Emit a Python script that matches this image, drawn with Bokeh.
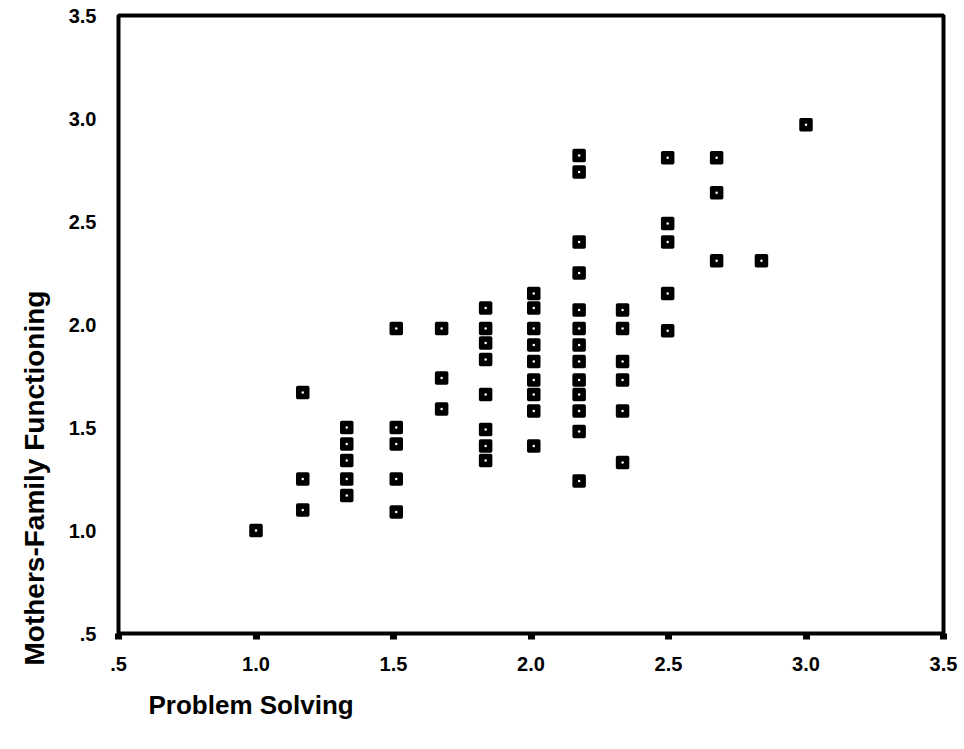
from bokeh.plotting import figure
from bokeh.models import Range1d, Title, FixedTicker
from bokeh.embed import file_html
from bokeh.resources import INLINE

# Problem Solving (x) and Mothers-Family Functioning (y)
problem_solving = (
    [1.00]
    + [1.17] * 3
    + [1.33] * 5
    + [1.51] * 5
    + [1.675] * 3
    + [1.835] * 8
    + [2.01] * 9
    + [2.175] * 13
    + [2.333] * 6
    + [2.497] * 5
    + [2.675] * 3
    + [2.838]
    + [3.00]
)
family_functioning = (
    [1.00]
    + [1.67, 1.25, 1.10]
    + [1.50, 1.42, 1.34, 1.25, 1.17]
    + [1.98, 1.50, 1.42, 1.25, 1.09]
    + [1.98, 1.74, 1.59]
    + [2.08, 1.98, 1.91, 1.83, 1.66, 1.49, 1.41, 1.34]
    + [2.15, 2.08, 1.98, 1.90, 1.82, 1.73, 1.66, 1.58, 1.41]
    + [2.82, 2.74, 2.40, 2.25, 2.07, 1.98, 1.90, 1.82, 1.73, 1.66, 1.58, 1.48, 1.24]
    + [2.07, 1.98, 1.82, 1.73, 1.58, 1.33]
    + [2.81, 2.49, 2.40, 2.15, 1.97]
    + [2.81, 2.64, 2.31]
    + [2.31]
    + [2.97]
)

tick_values = [0.5, 1.0, 1.5, 2.0, 2.5, 3.0, 3.5]
tick_labels = [".5", "1.0", "1.5", "2.0", "2.5", "3.0", "3.5"]

FONT = "Liberation Sans"

p = figure(
    width=960, height=745,
    output_backend="svg", toolbar_location=None,
    x_range=Range1d(0.5, 3.5), y_range=Range1d(0.5, 3.5),
    min_border_left=118, min_border_right=17,
    min_border_top=15, min_border_bottom=112,
)
p.grid.visible = False
p.outline_line_color = "black"
p.outline_line_width = 4
p.background_fill_color = "white"
p.border_fill_color = "white"

label_overrides = {v: t for v, t in zip(tick_values, tick_labels)}

for ax in (p.xaxis[0], p.yaxis[0]):
    ax.ticker = FixedTicker(ticks=tick_values)
    ax.major_label_overrides = label_overrides
    ax.minor_tick_line_color = None
    ax.axis_line_color = None
    ax.major_label_text_font = FONT
    ax.major_label_text_font_style = "bold"
    ax.major_label_text_font_size = "20px"
    ax.major_label_text_color = "black"

p.xaxis.major_tick_in = 0
p.xaxis.major_tick_out = 6
p.xaxis.major_tick_line_width = 7
p.xaxis.major_tick_line_color = "black"
p.xaxis.major_label_standoff = 17

p.yaxis.major_tick_line_color = None
p.yaxis.major_tick_in = 0
p.yaxis.major_tick_out = 0
p.yaxis.major_label_standoff = 22

xt = Title(text="Problem Solving", align="left", offset=30,
           text_font=FONT, text_font_size="26px", text_font_style="bold",
           text_color="black", standoff=28)
p.add_layout(xt, "below")
yt = Title(text="Mothers-Family Functioning", align="left", offset=-32,
           text_font=FONT, text_font_size="28px", text_font_style="bold",
           text_color="black", standoff=31)
p.add_layout(yt, "left")

p.scatter(problem_solving, family_functioning, marker="square", size=10,
          fill_color="black", line_color="black", line_width=3.5,
          line_join="round")
p.scatter(problem_solving, family_functioning, marker="circle", size=2.5,
          fill_color="white", line_color=None)

open("out.html", "w").write(file_html(p, INLINE))
